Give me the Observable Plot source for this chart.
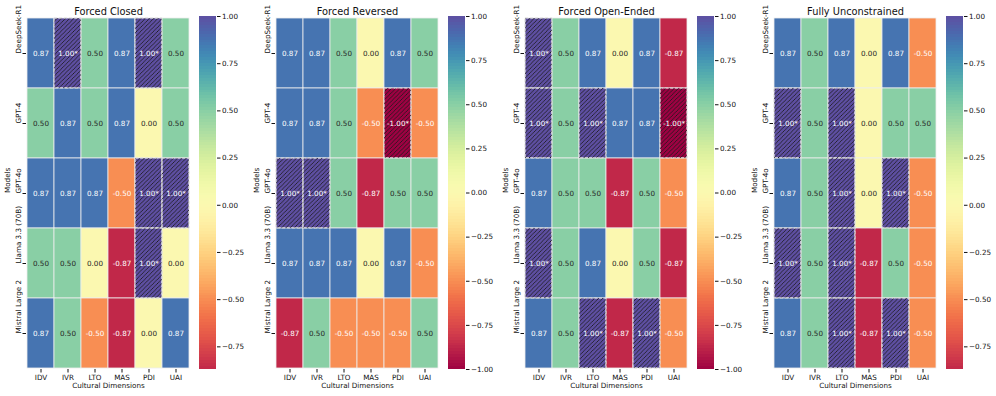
<!DOCTYPE html>
<html>
<head>
<meta charset="utf-8">
<script src="https://cdn.jsdelivr.net/npm/d3@7"></script>
<script src="https://cdn.jsdelivr.net/npm/@observablehq/plot@0.6"></script>
<style>
  html, body { margin: 0; padding: 0; background: white; }
  #root { position: relative; width: 996px; height: 396px; overflow: hidden; font-family: "DejaVu Sans", sans-serif; }
  #root svg { position: absolute; top: 0; overflow: visible; background: transparent; max-width: none; }
</style>
</head>
<body>
<div id="root"></div>
<script>
const models = ["DeepSeek-R1", "GPT-4", "GPT-4o", "Llama 3.3 (70B)", "Mistral Large 2"];
const dims = ["IDV", "IVR", "LTO", "MAS", "PDI", "UAI"];
const titles = ["Forced Closed", "Forced Reversed", "Forced Open-Ended", "Fully Unconstrained"];

// values per panel (rows = models, columns = dims)
const closedValues = [
  [0.87, 1.00, 0.50, 0.87, 1.00, 0.50],
  [0.50, 0.87, 0.50, 0.87, 0.00, 0.50],
  [0.87, 0.87, 0.87, -0.50, 1.00, 1.00],
  [0.50, 0.50, 0.00, -0.87, 1.00, 0.00],
  [0.87, 0.50, -0.50, -0.87, 0.00, 0.87]
];
const closedStar = [
  [0, 1, 0, 0, 1, 0],
  [0, 0, 0, 0, 0, 0],
  [0, 0, 0, 0, 1, 1],
  [0, 0, 0, 0, 1, 0],
  [0, 0, 0, 0, 0, 0]
];
const reversedValues = [
  [0.87, 0.87, 0.50, 0.00, 0.87, 0.50],
  [0.87, 0.87, 0.50, -0.50, -1.00, -0.50],
  [1.00, 1.00, 0.50, -0.87, 0.50, 0.50],
  [0.87, 0.87, 0.87, 0.00, 0.87, -0.50],
  [-0.87, 0.50, -0.50, -0.50, -0.50, 0.50]
];
const reversedStar = [
  [0, 0, 0, 0, 0, 0],
  [0, 0, 0, 0, 1, 0],
  [1, 1, 0, 0, 0, 0],
  [0, 0, 0, 0, 0, 0],
  [0, 0, 0, 0, 0, 0]
];
const openValues = [
  [1.00, 0.50, 0.87, 0.00, 0.87, -0.87],
  [1.00, 0.50, 1.00, 0.87, 0.87, -1.00],
  [0.87, 0.50, 0.50, -0.87, 0.50, -0.50],
  [1.00, 0.50, 0.87, 0.00, 0.50, -0.87],
  [0.87, 0.50, 1.00, -0.87, 1.00, -0.50]
];
const openStar = [
  [1, 0, 0, 0, 0, 0],
  [1, 0, 1, 0, 0, 1],
  [0, 0, 0, 0, 0, 0],
  [1, 0, 0, 0, 0, 0],
  [0, 0, 1, 0, 1, 0]
];
const unconstrainedValues = [
  [0.87, 0.50, 0.87, 0.00, 0.87, -0.50],
  [1.00, 0.50, 1.00, 0.00, 0.50, 0.50],
  [0.87, 0.50, 1.00, 0.00, 1.00, -0.50],
  [1.00, 0.50, 1.00, -0.87, 0.50, -0.50],
  [0.87, 0.50, 1.00, -0.87, 1.00, -0.50]
];
const unconstrainedStar = [
  [0, 0, 0, 0, 0, 0],
  [1, 0, 1, 0, 0, 0],
  [0, 0, 1, 0, 1, 0],
  [1, 0, 1, 0, 0, 0],
  [0, 0, 1, 0, 1, 0]
];

const panels = [
  {title: titles[0], values: closedValues, star: closedStar},
  {title: titles[1], values: reversedValues, star: reversedStar},
  {title: titles[2], values: openValues, star: openStar},
  {title: titles[3], values: unconstrainedValues, star: unconstrainedStar}
];

const FONT = "DejaVu Sans";
const colorScale = {type: "linear", domain: [-1, 1], scheme: "spectral"};
function lum(c) {
  const {r, g, b} = d3.rgb(c);
  const f = v => { v /= 255; return v <= 0.03928 ? v / 12.92 : Math.pow((v + 0.055) / 1.055, 2.4); };
  return 0.2126 * f(r) + 0.7152 * f(g) + 0.0722 * f(b);
}
function textColor(v) {
  return lum(d3.interpolateSpectral((v + 1) / 2)) > 0.408 ? "#262626" : "white";
}

const root = document.getElementById("root");
const lefts = [26, 275, 524, 773];
const mTop = 16, mBottom = 27, H = 396, cellW = 164;

panels.forEach((p, i) => {
  const cells = [];
  p.values.forEach((row, r) => row.forEach((v, c) => {
    cells.push({model: models[r], dim: dims[c], v, star: !!p.star[r][c],
      label: d3.format(".2f")(v).replace("−", "-") + (p.star[r][c] ? "*" : "")});
  }));
  const L = lefts[i];
  const heat = Plot.plot({
    width: 26 + cellW + 5, height: H,
    marginLeft: 26, marginRight: 5, marginTop: mTop, marginBottom: mBottom,
    style: {fontFamily: FONT, fontSize: "7px", color: "#111", background: "transparent", overflow: "visible"},
    x: {domain: dims, padding: 0, label: null},
    y: {domain: models, padding: 0, label: null},
    color: colorScale,
    marks: [
      Plot.cell(cells, {x: "dim", y: "model", fill: "v", stroke: "#eeeeee", strokeWidth: 0.8}),
      Plot.cell(cells.filter(d => d.star), {x: "dim", y: "model", fill: `url(#hatch${i})`, stroke: "#d8d8d8", strokeWidth: 0.9, strokeDasharray: "3,2"}),
      Plot.text(cells, {x: "dim", y: "model", text: "label", fill: d => textColor(d.v), fontSize: 7.2}),
      Plot.axisX({tickSize: 3.5, tickPadding: 2, fontSize: 7.2, label: null}),
      Plot.axisY({tickSize: 3.5, tickFormat: () => null, label: null}),
      Plot.text(models, {y: d => d, frameAnchor: "left", dx: -8, rotate: -90, fontSize: 7.2, fill: "#111"}),
      Plot.text(["Models"], {frameAnchor: "left", dx: -19, rotate: -90, fontSize: 7.2, fill: "#111"}),
      Plot.text(["Cultural Dimensions"], {frameAnchor: "bottom", dy: 18, fontSize: 7.2, fill: "#111"}),
      Plot.text([p.title], {frameAnchor: "top", dy: -8, fontSize: 9.8, fill: "#111"})
    ]
  });
  heat.insertAdjacentHTML("afterbegin",
    `<defs><pattern id="hatch${i}" patternUnits="userSpaceOnUse" width="4.2" height="4.2">` +
    `<path d="M-1.05,1.05 L1.05,-1.05 M0,4.2 L4.2,0 M3.15,5.25 L5.25,3.15" stroke="#1a1a1a" stroke-width="0.8"/></pattern></defs>`);
  heat.style.left = (L - 26) + "px";
  root.appendChild(heat);

  // colorbar
  const [lo, hi] = d3.extent(p.values.flat());
  const n = 120;
  const slices = d3.range(n).map(k => ({
    y1: lo + (hi - lo) * k / n,
    y2: lo + (hi - lo) * (k + 1) / n,
    v: lo + (hi - lo) * (k + 0.5) / n
  }));
  const ticks = d3.range(-1, 1.0001, 0.25).filter(t => t >= lo - 1e-9 && t <= hi + 1e-9);
  const cb = Plot.plot({
    width: 50, height: H,
    marginLeft: 0, marginRight: 33, marginTop: mTop, marginBottom: mBottom,
    style: {fontFamily: FONT, fontSize: "7px", color: "#111", background: "transparent", overflow: "visible"},
    x: {domain: [0, 1], axis: null},
    y: {domain: [lo, hi], label: null, axis: null},
    color: colorScale,
    marks: [
      Plot.rect(slices, {x1: 0, x2: 1, y1: "y1", y2: "y2", fill: "v", shapeRendering: "crispEdges"}),
      Plot.axisY({anchor: "right", ticks, tickSize: 3.5, tickPadding: 2, fontSize: 7.2, tickFormat: d3.format(".2f"), label: null})
    ]
  });
  cb.style.left = (L + 173) + "px";
  root.appendChild(cb);
});
</script>
</body>
</html>
